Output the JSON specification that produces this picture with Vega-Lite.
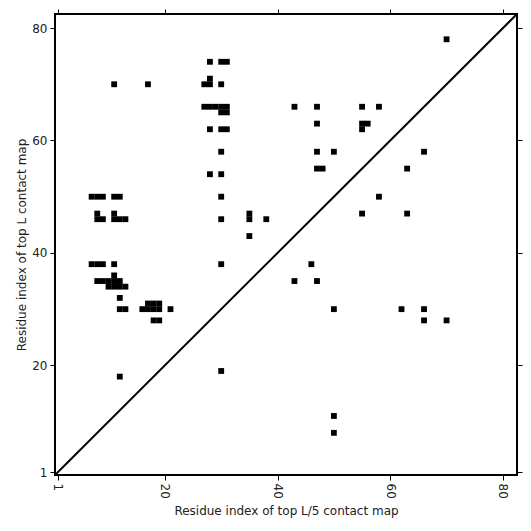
{
  "$schema": "https://vega.github.io/schema/vega-lite/v6.json",
  "width": 462,
  "height": 461,
  "autosize": "none",
  "padding": {"left": 55, "top": 14, "right": 14, "bottom": 56},
  "background": "white",
  "config": {
    "view": {"stroke": "black", "strokeWidth": 2},
    "font": "DejaVu Sans",
    "axis": {
      "grid": false,
      "domain": false,
      "tickColor": "black",
      "tickWidth": 1,
      "tickSize": 5,
      "labelFont": "DejaVu Sans",
      "labelFontSize": 12,
      "labelColor": "#222222",
      "labelPadding": 3,
      "titleFont": "DejaVu Sans",
      "titleFontSize": 12,
      "titleFontWeight": "normal",
      "titleColor": "#222222"
    }
  },
  "layer": [
    {
      "data": {
        "values": [
          {"i": 7, "j": 50}, {"i": 8, "j": 50}, {"i": 9, "j": 50}, {"i": 11, "j": 50}, {"i": 12, "j": 50}, {"i": 30, "j": 50}, {"i": 58, "j": 50},
          {"i": 8, "j": 47}, {"i": 11, "j": 47}, {"i": 35, "j": 47}, {"i": 55, "j": 47}, {"i": 63, "j": 47},
          {"i": 8, "j": 46}, {"i": 9, "j": 46}, {"i": 11, "j": 46}, {"i": 12, "j": 46}, {"i": 13, "j": 46}, {"i": 30, "j": 46}, {"i": 35, "j": 46}, {"i": 38, "j": 46},
          {"i": 7, "j": 38}, {"i": 8, "j": 38}, {"i": 9, "j": 38}, {"i": 11, "j": 38}, {"i": 30, "j": 38}, {"i": 46, "j": 38},
          {"i": 11, "j": 36},
          {"i": 8, "j": 35}, {"i": 9, "j": 35}, {"i": 10, "j": 35}, {"i": 11, "j": 35}, {"i": 12, "j": 35}, {"i": 43, "j": 35}, {"i": 47, "j": 35},
          {"i": 10, "j": 34}, {"i": 11, "j": 34}, {"i": 12, "j": 34}, {"i": 13, "j": 34},
          {"i": 12, "j": 32},
          {"i": 17, "j": 31}, {"i": 18, "j": 31}, {"i": 19, "j": 31},
          {"i": 12, "j": 30}, {"i": 13, "j": 30}, {"i": 16, "j": 30}, {"i": 17, "j": 30}, {"i": 18, "j": 30}, {"i": 19, "j": 30}, {"i": 21, "j": 30}, {"i": 50, "j": 30}, {"i": 62, "j": 30}, {"i": 66, "j": 30},
          {"i": 18, "j": 28}, {"i": 19, "j": 28}, {"i": 66, "j": 28}, {"i": 70, "j": 28},
          {"i": 12, "j": 18},
          {"i": 30, "j": 19},
          {"i": 50, "j": 11},
          {"i": 50, "j": 8},
          {"i": 11, "j": 70}, {"i": 17, "j": 70}, {"i": 27, "j": 70}, {"i": 28, "j": 70}, {"i": 30, "j": 70},
          {"i": 28, "j": 71},
          {"i": 28, "j": 74}, {"i": 30, "j": 74}, {"i": 31, "j": 74},
          {"i": 27, "j": 66}, {"i": 28, "j": 66}, {"i": 29, "j": 66}, {"i": 30, "j": 66}, {"i": 31, "j": 66}, {"i": 43, "j": 66}, {"i": 47, "j": 66}, {"i": 55, "j": 66}, {"i": 58, "j": 66},
          {"i": 30, "j": 65}, {"i": 31, "j": 65},
          {"i": 47, "j": 63}, {"i": 55, "j": 63}, {"i": 56, "j": 63},
          {"i": 28, "j": 62}, {"i": 30, "j": 62}, {"i": 31, "j": 62}, {"i": 55, "j": 62},
          {"i": 30, "j": 58}, {"i": 47, "j": 58}, {"i": 50, "j": 58}, {"i": 66, "j": 58},
          {"i": 47, "j": 55}, {"i": 48, "j": 55}, {"i": 63, "j": 55},
          {"i": 28, "j": 54}, {"i": 30, "j": 54},
          {"i": 35, "j": 43},
          {"i": 70, "j": 78}
        ]
      },
      "mark": {"type": "square", "filled": true, "size": 34, "color": "black", "opacity": 1},
      "encoding": {
        "x": {
          "field": "i", "type": "quantitative",
          "scale": {"domain": [0.5, 82.5], "nice": false, "zero": false},
          "axis": {
            "orient": "bottom", "values": [1, 20, 40, 60, 80],
            "labelAngle": 90, "labelAlign": "left", "labelBaseline": "middle",
            "title": "Residue index of top L/5 contact map",
            "titleBaseline": "alphabetic", "titleY": 39
          }
        },
        "y": {
          "field": "j", "type": "quantitative",
          "scale": {"domain": [0.5, 82.5], "nice": false, "zero": false},
          "axis": {
            "orient": "left", "values": [1, 20, 40, 60, 80],
            "title": "Residue index of top L contact map",
            "titleBaseline": "middle", "titleX": -34, "titleAngle": -90
          }
        }
      }
    },
    {
      "data": {"values": [{}]},
      "mark": {"type": "rule", "color": "black", "strokeWidth": 2},
      "encoding": {
        "x": {"datum": 0.5, "type": "quantitative", "scale": {"domain": [0.5, 82.5], "nice": false, "zero": false},
              "axis": {"orient": "top", "values": [1, 20, 40, 60, 80], "labels": false, "title": null}},
        "y": {"datum": 0.5, "type": "quantitative", "scale": {"domain": [0.5, 82.5], "nice": false, "zero": false},
              "axis": {"orient": "right", "values": [1, 20, 40, 60, 80], "labels": false, "title": null}},
        "x2": {"datum": 82.5},
        "y2": {"datum": 82.5}
      }
    }
  ],
  "resolve": {"axis": {"x": "independent", "y": "independent"}}
}
